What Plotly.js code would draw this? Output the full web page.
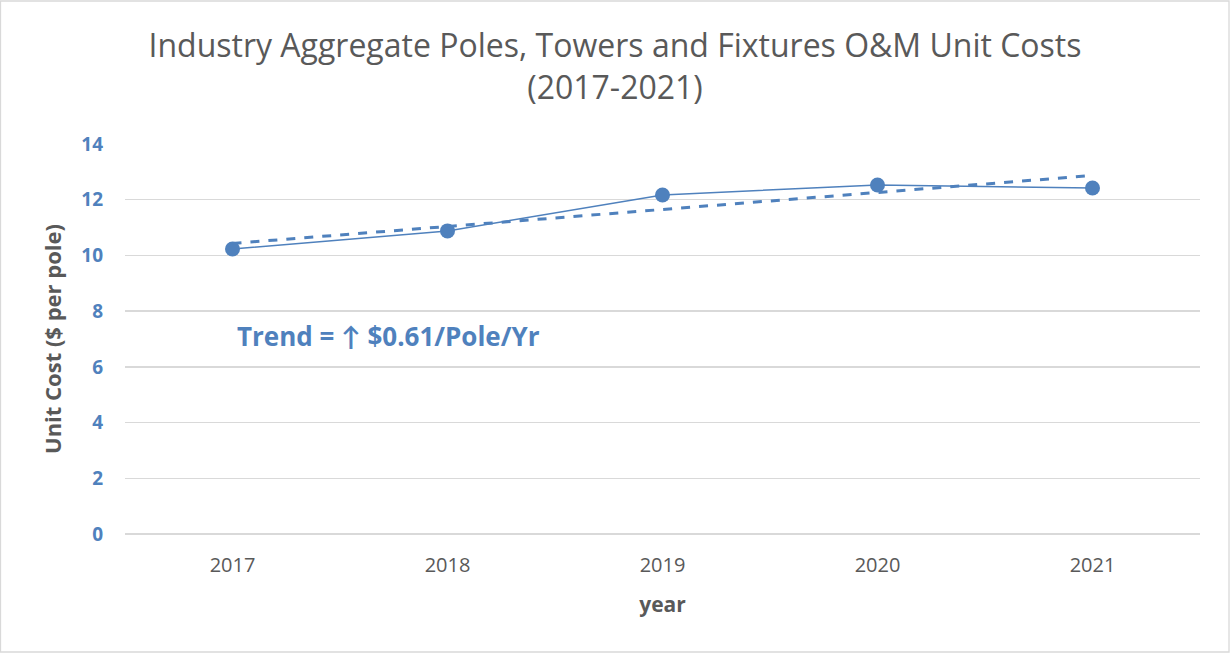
<!DOCTYPE html>
<html>
<head>
<meta charset="utf-8">
<script src="https://cdn.plot.ly/plotly-3.0.1.min.js"></script>
<style>
html,body{margin:0;padding:0;background:#fff;}
#chart{width:1230px;height:653px;}
</style>
</head>
<body>
<div id="chart"></div>
<script>
const years = ["2017", "2018", "2019", "2020", "2021"];
const unitCost = [10.23, 10.88, 12.17, 12.53, 12.42];
const trendYears = ["2017", "2021"];
const trendValues = [10.43, 12.87];
const yTicks = [0, 2, 4, 6, 8, 10, 12, 14];
const trendLabel = "Trend = ↑ $0.61/Pole/Yr";

const blue = "#4F81BD";
const gray = "#595959";
const font = "Open Sans, Lato, sans-serif";

const traces = [
  {
    x: years, y: unitCost, type: "scatter", mode: "lines+markers",
    line: {color: blue, width: 1.5},
    marker: {color: blue, size: 15},
    showlegend: false, hoverinfo: "x+y"
  },
  {
    x: trendYears, y: trendValues, type: "scatter", mode: "lines",
    line: {color: blue, width: 3, dash: "dash"},
    showlegend: false, hoverinfo: "skip"
  }
];

const layout = {
  width: 1230, height: 653,
  margin: {l: 125, r: 30, t: 144, b: 119},
  paper_bgcolor: "#fff", plot_bgcolor: "#fff",
  title: {
    text: "Industry Aggregate Poles, Towers and Fixtures O&M Unit Costs<br>(2017-2021)",
    font: {family: font, size: 32, color: gray},
    x: 0.5, xanchor: "center", yref: "container", y: 1 - 57/653, yanchor: "middle"
  },
  xaxis: {
    type: "category", categoryorder: "array", categoryarray: years,
    range: [-0.5, 4.5],
    showgrid: false, zeroline: false, showline: false,
    ticks: "", ticklen: 0,
    tickfont: {family: font, size: 20, color: gray},
    ticklabelstandoff: 17,
    title: {text: "<b>year</b>", font: {family: font, size: 21, color: gray}, standoff: 20}
  },
  yaxis: {
    range: [0, 14], tickvals: yTicks, ticktext: yTicks.map(v => "<b>" + v + "</b>"),
    showgrid: true, gridcolor: "#D9D9D9", gridwidth: 1.3,
    zeroline: true, zerolinecolor: "#D9D9D9", zerolinewidth: 1.3,
    showline: false, ticks: "",
    tickfont: {family: font, size: 19, color: blue},
    ticklabelstandoff: 21,
    title: {text: "<b>Unit Cost ($ per pole)</b>", font: {family: font, size: 22, color: gray}, standoff: 13}
  },
  annotations: [{
    text: "<b>" + trendLabel + "</b>",
    xref: "paper", yref: "y", x: 0.102, y: 7.1, xanchor: "left", yanchor: "middle",
    showarrow: false, font: {family: font, size: 26, color: blue}
  }],
  shapes: [{
    type: "rect", xref: "paper", yref: "paper",
    x0: -124.5/1075, x1: 1 + 29/1075, y0: -118/390, y1: 1 + 143/390,
    line: {color: "#D9D9D9", width: 1.3}, fillcolor: "rgba(0,0,0,0)"
  }]
};

Plotly.newPlot("chart", traces, layout, {displayModeBar: false, staticPlot: true});
</script>
</body>
</html>
